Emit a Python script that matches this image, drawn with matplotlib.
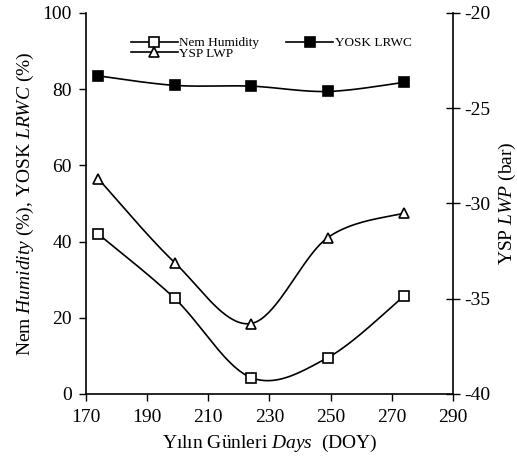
import numpy as np
import matplotlib
matplotlib.use("Agg")
import matplotlib.pyplot as plt
from matplotlib.lines import Line2D

plt.rcParams['font.family'] = ['Liberation Serif', 'DejaVu Serif']
plt.rcParams['mathtext.fontset'] = 'custom'
plt.rcParams['mathtext.rm'] = 'Liberation Serif'
plt.rcParams['mathtext.it'] = 'Liberation Serif:italic'
plt.rcParams['axes.unicode_minus'] = False

days = [174, 199, 224, 249, 274]
nem_humidity = [42.0, 25.1, 4.3, 9.5, 25.7]
yosk_lrwc = [83.5, 81.0, 80.8, 79.4, 81.8]
ysp_lwp = [-28.7, -33.1, -36.3, -31.8, -30.5]

xticks = [170, 190, 210, 230, 250, 270, 290]
left_ticks = [0, 20, 40, 60, 80, 100]
right_ticks = [-40, -35, -30, -25, -20]


def smooth(x, y, n=40):
    x = np.asarray(x, float)
    y = np.asarray(y, float)
    P = np.column_stack([x, y])
    m = len(P)
    out = []
    for i in range(m - 1):
        p0 = P[i - 1] if i > 0 else P[i]
        p1 = P[i]
        p2 = P[i + 1]
        p3 = P[i + 2] if i + 2 < m else P[i + 1]
        c1 = p1 + (p2 - p0) / 6.0
        c2 = p2 - (p3 - p1) / 6.0
        t = np.linspace(0, 1, n)[:, None]
        seg = ((1 - t) ** 3) * p1 + 3 * ((1 - t) ** 2) * t * c1 + 3 * (1 - t) * t ** 2 * c2 + t ** 3 * p2
        out.append(seg if i == 0 else seg[1:])
    S = np.vstack(out)
    return S[:, 0], S[:, 1]


fig = plt.figure(figsize=(5.17, 4.76), dpi=100)
ax = fig.add_axes([0.1663, 0.1723, 0.876 - 0.1663, 0.9727 - 0.1723])
ax2 = ax.twinx()

lw = 1.2
ms = 7.5
mew = 1.2

sx, sy = smooth(days, nem_humidity)
ax.plot(sx, sy, color='black', lw=lw, zorder=2)
ax.plot(days, nem_humidity, ls='none', marker='s', ms=ms, mfc='white', mec='black', mew=mew, zorder=3)

sx, sy = smooth(days, yosk_lrwc)
ax.plot(sx, sy, color='black', lw=lw, zorder=2)
ax.plot(days, yosk_lrwc, ls='none', marker='s', ms=ms, mfc='black', mec='black', mew=mew, zorder=3)

sx, sy = smooth(days, ysp_lwp)
ax2.plot(sx, sy, color='black', lw=lw, zorder=2)
ax2.plot(days, ysp_lwp, ls='none', marker='^', ms=ms, mfc='white', mec='black', mew=mew, zorder=3)

ax.set_xlim(170, 290)
ax.set_ylim(0, 100)
ax2.set_ylim(-40, -20)
ax.set_xticks(xticks)
ax.set_yticks(left_ticks)
ax2.set_yticks(right_ticks)

for a in (ax, ax2):
    a.spines['top'].set_visible(False)
ax.spines['right'].set_visible(False)
ax2.spines['left'].set_visible(False)
ax2.spines['bottom'].set_visible(False)
for s in ['left', 'bottom']:
    ax.spines[s].set_linewidth(1.2)
ax2.spines['right'].set_linewidth(1.2)

ax.tick_params(axis='x', direction='out', length=5, width=1.0, labelsize=14, pad=6)
ax.tick_params(axis='y', direction='out', length=5, width=1.0, labelsize=14, pad=5)
ax2.tick_params(axis='y', direction='inout', length=10, width=1.0, labelsize=14, pad=3)

ax.set_xlabel('Yılın Günleri $\\mathit{Days}$  (DOY)', fontsize=14, labelpad=5)
ax.set_ylabel('Nem $\\mathit{Humidity}$ (%), YOSK $\\mathit{LRWC}$ (%)', fontsize=14, labelpad=5)
ax2.set_ylabel('YSP $\\mathit{LWP}$ (bar)', fontsize=14, labelpad=5)

h_nem = Line2D([], [], color='black', lw=lw, marker='s', ms=6.5, mfc='white', mec='black', mew=mew)
h_yosk = Line2D([], [], color='black', lw=lw, marker='s', ms=6.5, mfc='black', mec='black', mew=mew)
h_ysp = Line2D([], [], color='black', lw=lw, marker='^', ms=6.5, mfc='white', mec='black', mew=mew)
leg = ax.legend([h_nem, h_ysp, h_yosk], ['Nem Humidity', 'YSP LWP', 'YOSK LRWC'],
                ncol=2, loc='upper left', bbox_to_anchor=(0.1, 0.958), frameon=False,
                fontsize=9.5, handlelength=3.6, handletextpad=0.1, columnspacing=2.0,
                labelspacing=-0.1, borderaxespad=0.2)

fig.savefig('out.png', dpi=100)
